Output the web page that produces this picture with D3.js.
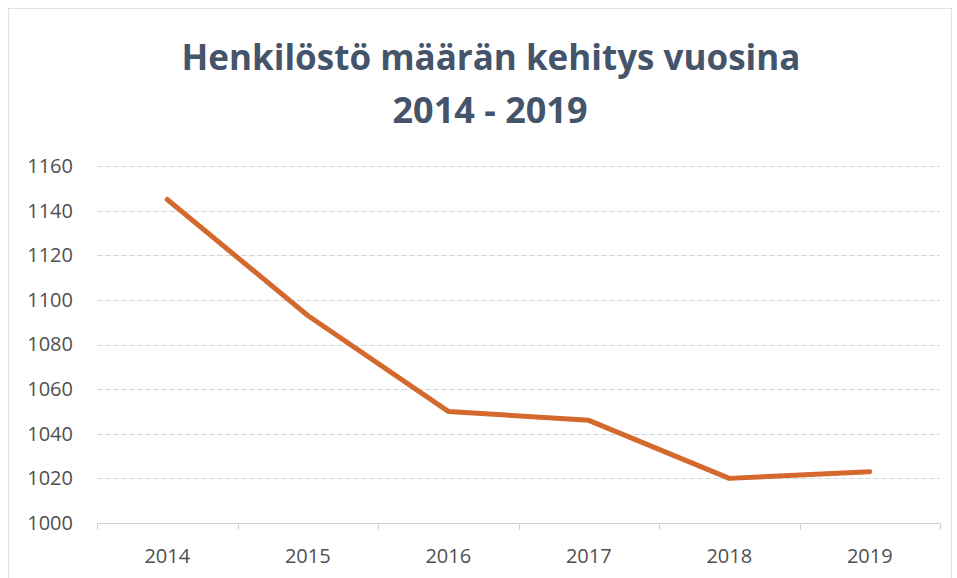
<!DOCTYPE html>
<html>
<head>
<meta charset="utf-8">
<script src="https://cdn.jsdelivr.net/npm/d3@7"></script>
<style>
  body { margin: 0; background: #fff; }
  svg { display: block; font-family: "Open Sans", "Noto Sans", sans-serif; }
</style>
</head>
<body>
<div id="chart"></div>
<script>
// data
const years = ['2014', '2015', '2016', '2017', '2018', '2019'];
const staff = [1145, 1093, 1050, 1046, 1020, 1023];
const yTicks = [1000, 1020, 1040, 1060, 1080, 1100, 1120, 1140, 1160];

const width = 957, height = 578;
const margin = { top: 166, right: 17, bottom: 55, left: 97 };

const svg = d3.select('#chart').append('svg')
  .attr('width', width)
  .attr('height', height);

// faint chart border
svg.append('rect')
  .attr('x', 8.5).attr('y', 8.5)
  .attr('width', width - 14).attr('height', height - 6)
  .attr('fill', 'none')
  .attr('stroke', '#e2e2e2');

const x = d3.scaleBand()
  .domain(years)
  .range([margin.left, width - margin.right]);

const y = d3.scaleLinear()
  .domain([1000, 1160])
  .range([height - margin.bottom, margin.top]);

// title
const title = svg.append('text')
  .attr('text-anchor', 'middle')
  .attr('fill', '#44546a')
  .attr('font-weight', 700);
title.append('tspan').attr('x', 491).attr('y', 70).attr('font-size', 35)
  .text('Henkilöstö määrän kehitys vuosina');
title.append('tspan').attr('x', 490).attr('y', 123).attr('font-size', 36)
  .text('2014 - 2019');

// gridlines
svg.append('g')
  .selectAll('line')
  .data(yTicks.filter(d => d !== 1000))
  .enter().append('line')
  .attr('x1', margin.left).attr('x2', width - margin.right)
  .attr('y1', d => Math.round(y(d)) + 0.5)
  .attr('y2', d => Math.round(y(d)) + 0.5)
  .attr('stroke', '#d4d9df')
  .attr('stroke-width', 1)
  .attr('stroke-dasharray', '6,2');

// y axis labels
const yAxis = svg.append('g')
  .attr('transform', `translate(${margin.left - 24},0)`)
  .call(d3.axisLeft(y).tickValues(yTicks).tickSize(0).tickPadding(0).tickFormat(d3.format('d')));
yAxis.select('.domain').remove();
yAxis.selectAll('text')
  .attr('font-size', 20)
  .attr('fill', '#505050')
  .attr('font-family', '"Open Sans", sans-serif');

// x axis with ticks between categories
const xAxisY = Math.round(y(1000)) + 0.5;
svg.append('line')
  .attr('x1', margin.left).attr('x2', width - margin.right)
  .attr('y1', xAxisY).attr('y2', xAxisY)
  .attr('stroke', '#cfcfcf');
svg.append('g')
  .selectAll('line')
  .data(years.concat(['end']))
  .enter().append('line')
  .attr('x1', (d, i) => Math.round(margin.left + i * x.step()) + 0.5)
  .attr('x2', (d, i) => Math.round(margin.left + i * x.step()) + 0.5)
  .attr('y1', xAxisY).attr('y2', xAxisY + 6)
  .attr('stroke', '#cfcfcf');
svg.append('g')
  .selectAll('text')
  .data(years)
  .enter().append('text')
  .attr('x', d => x(d) + x.bandwidth() / 2)
  .attr('y', xAxisY + 39)
  .attr('text-anchor', 'middle')
  .attr('font-size', 20)
  .attr('fill', '#505050')
  .text(d => d);

// line
const line = d3.line()
  .x((d, i) => x(years[i]) + x.bandwidth() / 2)
  .y(d => y(d));

svg.append('path')
  .datum(staff)
  .attr('d', line)
  .attr('fill', 'none')
  .attr('stroke', '#d4692e')
  .attr('stroke-width', 5)
  .attr('stroke-linecap', 'round')
  .attr('stroke-linejoin', 'round');
</script>
</body>
</html>
